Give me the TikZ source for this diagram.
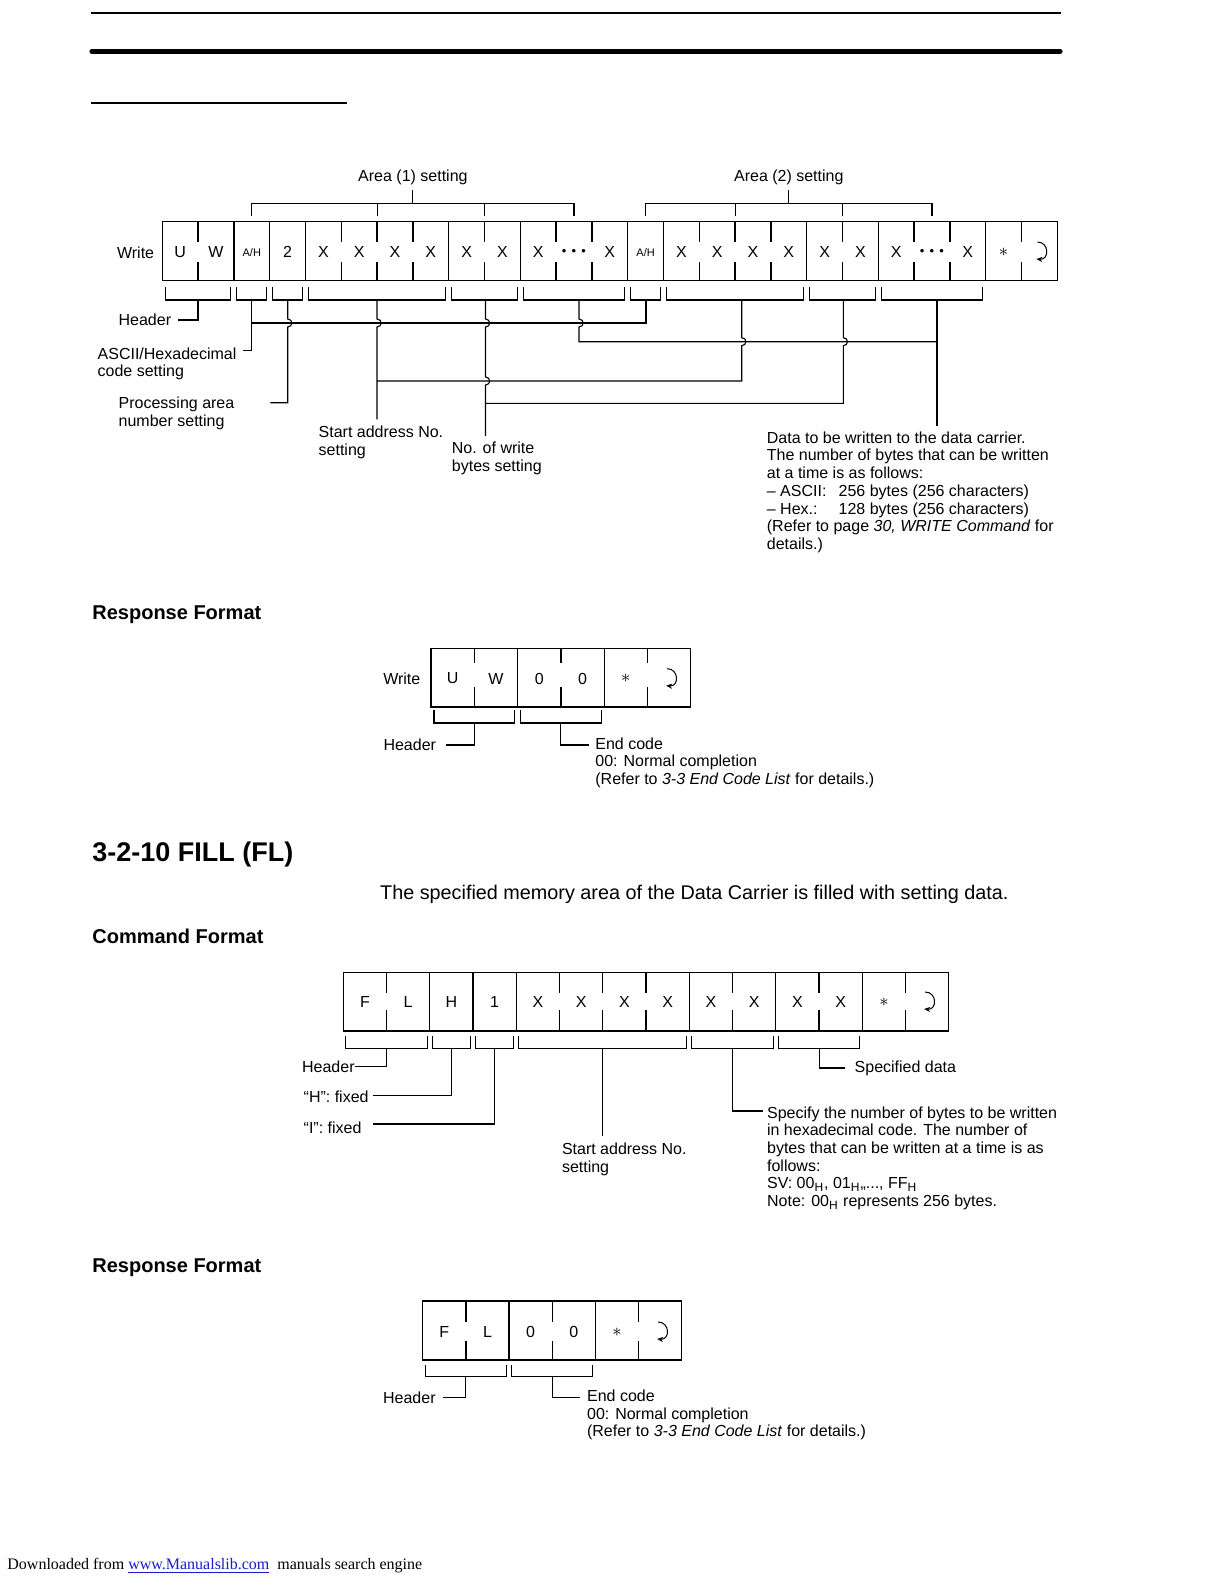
\documentclass[tikz,border=0pt]{standalone}
\usepackage{fontspec}
\setmainfont{Liberation Sans}
\newfontfamily\footfont{Liberation Serif}
\usetikzlibrary{arrows.meta, positioning}
\definecolor{linkblue}{HTML}{1A1ACC}
\tikzset{
  cellbox/.style={line width=0.65pt},
  conn/.style={line width=0.55pt},
  lbl/.style={font=\fontsize{8}{8.85}\selectfont, inner sep=0pt, align=left},
  cellt/.style={font=\fontsize{8}{8}\selectfont, inner sep=0pt},
  head/.style={font=\fontsize{10}{12}\selectfont\bfseries, anchor=west, inner sep=0pt},
  retsym/.pic={\draw[line width=0.5pt, -{Stealth[length=3pt, width=2.6pt]}]
    (-2,-9) .. controls (10,-9) and (10,9) .. (-3,8);},
}
\newcommand{\ahcell}{{\fontsize{5.5}{5.5}\selectfont A/H}}
\newcommand{\dotcell}{{\fontsize{6.5}{6.5}\selectfont\textbullet\hspace{2.6pt}\textbullet\hspace{2.6pt}\textbullet}}
\newcommand{\astcell}{{\fontsize{9}{9}\selectfont$\ast$}}
\newcommand{\hop}{.. controls +(5.5,0) and +(5.5,0) .. ++(0,8)}

\begin{document}
\begin{tikzpicture}[x=0.5pt, y=-0.5pt]
  \useasboundingbox (0,0) rectangle (1224,1584);

  % page rules
  \draw[line width=0.8pt] (91,13.1) -- (1061,13.1);
  \draw[line width=2.6pt, line cap=round] (92,51.5) -- (1060,51.5);
  \draw[line width=0.6pt] (91,103) -- (347,103);

  % ---- write command, two areas
  \def\cL{162.3} \def\cW{35.8}
  \draw[cellbox] (\cL,221.3) rectangle ++(25*\cW,59);
  \foreach \i in {2,3,4,8,10,13,14,18,20,23}
    \draw[cellbox] (\cL+\cW*\i,221.3) -- ++(0,59);
  \foreach \i in {1,5,6,7,9,11,12,15,16,17,19,21,22,24}
    \draw[cellbox] (\cL+\cW*\i,221.3) -- ++(0,20.4) ++(0,20.6) -- ++(0,18);
  \foreach \t [count=\i from 0] in {U,W,\ahcell,2,X,X,X,X,X,X,X,\dotcell,X,\ahcell,X,X,X,X,X,X,X,\dotcell,X,\astcell}
    \node[cellt] (wc\i) at (\cL+\cW*\i+\cW/2,252.3) {\t};
  \pic at (\cL+\cW*24.5,251) {retsym};
  \node[lbl, anchor=east] (wrA) at (154.5,252.3) {Write};

  \node[lbl] (ar1) at (412.9,177.5) {Area (1) setting};
  \node[lbl] (ar2) at (788.8,177.5) {Area (2) setting};
  \draw[conn] (ar1) ++(0,12.5) -- ++(0,13.3);
  \draw[conn] (ar2) ++(0,12.5) -- ++(0,13.3);
  \draw[conn] (\cL+\cW*2.5,216) |- (\cL+\cW*11.5,203.3) -- ++(0,12.7);
  \draw[conn] (\cL+\cW*13.5,216) |- (\cL+\cW*21.5,203.3) -- ++(0,12.7);
  \foreach \c in {6,9,16,19}
    \draw[conn] (\cL+\cW*\c,203.3) -- ++(0,12.7);

  \foreach \a/\b in {0/1,2/2,3/3,4/7,8/9,10/12,13/13,14/17,18/19,20/22}
    \draw[conn] (\cL+\cW*\a+3,287) |- (\cL+\cW*\b+\cW-3,300) -- ++(0,-13);

  \coordinate (sHdr) at (198,300);
  \coordinate (sAh1) at (251.8,300);
  \coordinate (sPa)  at (287.7,300);
  \coordinate (sSa1) at (377,300);
  \coordinate (sNb1) at (485.5,300);
  \coordinate (sD1)  at (579,300);
  \coordinate (sAh2) at (646,300);
  \coordinate (sSa2) at (741.7,300);
  \coordinate (sNb2) at (843.3,300);
  \coordinate (sD2)  at (937,300);
  \coordinate (yA) at (0,323);
  \coordinate (yB) at (0,341.7);
  \coordinate (yC) at (0,381);
  \coordinate (yD) at (0,403.3);

  \node[lbl, anchor=east] (hdrA) at (171.5,320) {Header};
  \coordinate (hdrE) at (177.7,320);
  \draw[conn] (hdrE) -| (sHdr);

  \node[lbl, anchor=north west] (ascA) at (97.3,347.3) {ASCII/Hexadecimal\\code setting};
  \coordinate (ascE) at (243.3,350.7);
  \draw[conn] (ascE) -| (sAh1);
  \draw[conn] (sAh1 |- yA) -| (sAh2);

  \node[lbl, anchor=north west] (prcA) at (118.3,396.7) {Processing area\\number setting};
  \coordinate (prcE) at (270.3,402.7);
  \draw[conn] (sPa) -- ++(0,19) \hop |- (prcE);

  \node[lbl, anchor=north west] (saA) at (318.3,425.7) {Start address No.\\setting};
  \coordinate (saE) at (377,419.3);
  \draw[conn] (sSa1) -- ++(0,19) \hop -- (saE);
  \draw[conn] (sSa2) -- ++(0,37.7) \hop |- (sSa1 |- yC);

  \node[lbl, anchor=north west] (nbA) at (451.5,441.5) {No. of write\\bytes setting};
  \coordinate (nbE) at (485.5,436);
  \draw[conn] (sNb1) -- ++(0,19) \hop -- ++(0,50) \hop -- (nbE);
  \draw[conn] (sNb2) -- ++(0,37.7) \hop |- (sNb1 |- yD);

  \coordinate (dtE) at (937,426);
  \draw[conn] (sD1) -- ++(0,19) \hop |- (sD2 |- yB);
  \draw[conn] (sD2) -- (dtE);
  \node[lbl, anchor=north west] (dtA) at (766.5,431.3) {Data to be written to the data carrier.\\
    The number of bytes that can be written\\at a time is as follows:\\
    \makebox[35.9pt][l]{\textendash{} ASCII:}256 bytes (256 characters)\\
    \makebox[35.9pt][l]{\textendash{} Hex.:}128 bytes (256 characters)\\
    (Refer to page \textit{30, WRITE Command} for\\details.)};

  % ---- response to write
  \node[head] (resp1) at (92,615) {Response Format};
  \def\rL{431} \def\rW{43.3}
  \draw[cellbox] (\rL,648.3) rectangle ++(6*\rW,58.7);
  \foreach \i in {2,4}
    \draw[cellbox] (\rL+\rW*\i,648.3) -- ++(0,58.7);
  \foreach \i in {1,3,5}
    \draw[cellbox] (\rL+\rW*\i,648.3) -- ++(0,15) ++(0,24) -- ++(0,19.7);
  \foreach \t [count=\i from 0] in {U,W,0,0,\astcell}
    \node[cellt] (rc\i) at (\rL+\rW*\i+\rW/2,678.5) {\t};
  \pic at (\rL+\rW*5.5,677.7) {retsym};
  \node[lbl, anchor=east] (rwA) at (420.7,678.5) {Write};
  \foreach \a/\b in {0/1,2/3}
    \draw[conn] (\rL+\rW*\a+3,710) |- (\rL+\rW*\b+\rW-3,723) -- ++(0,-13);
  \coordinate (rsH) at (\rL+\rW,723);
  \coordinate (rsE) at (\rL+\rW*3,723);
  \node[lbl, anchor=east] (rhA) at (436.4,745) {Header};
  \coordinate (rhE) at (446,745);
  \draw[conn] (rhE) -| (rsH);
  \coordinate (reE) at (589.3,745);
  \draw[conn] (rsE) |- (reE);
  \node[lbl, anchor=north west] (reA) at (595,737) {End code\\00: Normal completion\\
    (Refer to \textit{3-3 End Code List} for details.)};

  % ---- fill command
  \node[font=\fontsize{13.5}{15}\selectfont\bfseries, anchor=west, inner sep=0pt] (fillT) at (92,854.5) {3-2-10 FILL (FL)};
  \node[font=\fontsize{9.9}{12}\selectfont, anchor=west, inner sep=0pt] (fillD) at (379.8,894.5)
    {The specified memory area of the Data Carrier is filled with setting data.};
  \node[head] (cmdH) at (92,936) {Command Format};
  \def\fL{343.3} \def\fW{43.25}
  \draw[cellbox] (\fL,972.3) rectangle ++(14*\fW,58.7);
  \foreach \i in {2,3,4,8,10,12}
    \draw[cellbox] (\fL+\fW*\i,972.3) -- ++(0,58.7);
  \foreach \i in {1,5,6,7,9,11,13}
    \draw[cellbox] (\fL+\fW*\i,972.3) -- ++(0,20.4) ++(0,17.3) -- ++(0,21);
  \foreach \t [count=\i from 0] in {F,L,H,1,X,X,X,X,X,X,X,X,\astcell}
    \node[cellt] (fc\i) at (\fL+\fW*\i+\fW/2,1002) {\t};
  \pic at (\fL+\fW*13.5,1001) {retsym};
  \foreach \a/\b in {0/1,2/2,3/3,4/7,8/9,10/11}
    \draw[conn] (\fL+\fW*\a+2.5,1035.7) |- (\fL+\fW*\b+\fW-2.5,1048.7) -- ++(0,-13);
  \coordinate (fsH)  at (\fL+\fW,1048.7);
  \coordinate (fsHf) at (\fL+\fW*2.5,1048.7);
  \coordinate (fsI)  at (\fL+\fW*3.5,1048.7);
  \coordinate (fsSa) at (\fL+\fW*6,1048.7);
  \coordinate (fsNb) at (\fL+\fW*9,1048.7);
  \coordinate (fsDt) at (\fL+\fW*11,1048.7);

  \node[lbl, anchor=east] (fhA) at (355,1066.7) {Header};
  \draw[conn] (fhA.east) -| (fsH);
  \node[lbl, anchor=west] (fhfA) at (303.3,1096.7) {“H”: fixed};
  \coordinate (fhfE) at (372.7,1095.7);
  \draw[conn] (fhfE) -| (fsHf);
  \node[lbl, anchor=west] (fifA) at (303.3,1127.5) {“I”: fixed};
  \coordinate (fifE) at (372.7,1124);
  \draw[conn] (fifE) -| (fsI);
  \coordinate (fsaE) at (\fL+\fW*6,1135.7);
  \draw[conn] (fsSa) -- (fsaE);
  \node[lbl, anchor=north west] (fsaA) at (561.6,1142.3) {Start address No.\\setting};
  \coordinate (fnbE) at (762.7,1111);
  \draw[conn] (fsNb) |- (fnbE);
  \node[lbl, anchor=north west] (fnbA) at (766.7,1106) {Specify the number of bytes to be written\\
    in hexadecimal code. The number of\\bytes that can be written at a time is as\\follows:\\
    SV: 00\textsubscript{H}, 01\textsubscript{H},,..., FF\textsubscript{H}\\
    Note: 00\textsubscript{H} represents 256 bytes.};
  \coordinate (fdtE) at (845.3,1068);
  \draw[conn] (fsDt) |- (fdtE);
  \node[lbl, anchor=west] (fdtA) at (854.3,1068) {Specified data};

  % ---- response to fill
  \node[head] (resp2) at (92,1267.5) {Response Format};
  \def\gL{422.7} \def\gW{43.17}
  \draw[cellbox] (\gL,1301) rectangle ++(6*\gW,59);
  \foreach \i in {2,4}
    \draw[cellbox] (\gL+\gW*\i,1301) -- ++(0,59);
  \foreach \i in {1,3,5}
    \draw[cellbox] (\gL+\gW*\i,1301) -- ++(0,20.7) ++(0,19.3) -- ++(0,19);
  \foreach \t [count=\i from 0] in {F,L,0,0,\astcell}
    \node[cellt] (gc\i) at (\gL+\gW*\i+\gW/2,1332) {\t};
  \pic at (\gL+\gW*5.5,1331) {retsym};
  \foreach \a/\b in {0/1,2/3}
    \draw[conn] (\gL+\gW*\a+2.6,1365) |- (\gL+\gW*\b+\gW-2.6,1376.7) -- ++(0,-11.7);
  \coordinate (gsH) at (\gL+\gW,1376.7);
  \coordinate (gsE) at (\gL+\gW*3,1376.7);
  \node[lbl, anchor=east] (ghA) at (436,1397.3) {Header};
  \coordinate (ghE) at (442.7,1397.3);
  \draw[conn] (ghE) -| (gsH);
  \coordinate (geE) at (580,1397.3);
  \draw[conn] (gsE) |- (geE);
  \node[lbl, anchor=north west] (geA) at (586.7,1389.5) {End code\\00: Normal completion\\
    (Refer to \textit{3-3 End Code List} for details.)};

  \node[anchor=west, inner sep=0pt, font=\footfont\fontsize{8}{10}\selectfont] (foot) at (7,1566)
    {Downloaded from \textcolor{linkblue}{\underline{www.Manualslib.com}}\ \ manuals search engine};
\end{tikzpicture}
\end{document}
